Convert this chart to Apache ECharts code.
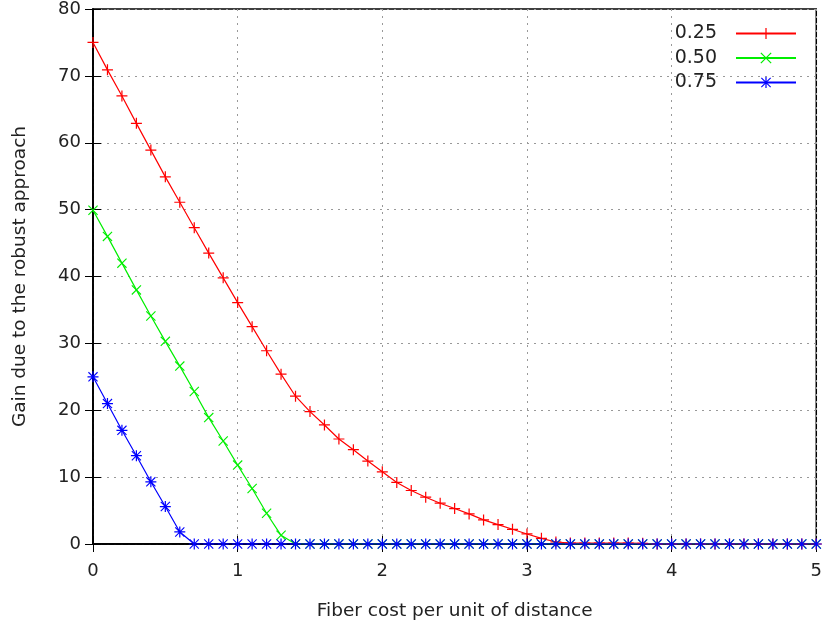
<!DOCTYPE html>
<html>
<head>
<meta charset="utf-8">
<script src="https://cdn.jsdelivr.net/npm/echarts@6/dist/echarts.min.js"></script>
<style>html,body{margin:0;padding:0;background:#fff;}#c{width:825px;height:628px;}</style>
</head>
<body>
<div id="c"></div>
<script>
const xValues = [0,0.1,0.2,0.3,0.4,0.5,0.6,0.7,0.8,0.9,1,1.1,1.2,1.3,1.4,1.5,1.6,1.7,1.8,1.9,2,2.1,2.2,2.3,2.4,2.5,2.6,2.7,2.8,2.9,3,3.1,3.2,3.3,3.4,3.5,3.6,3.7,3.8,3.9,4,4.1,4.2,4.3,4.4,4.5,4.6,4.7,4.8,4.9,5];
const seriesNames = ['0.25','0.50','0.75'];
const gain025 = [75,70.9,67.0,62.9,58.9,54.9,51.1,47.3,43.5,39.8,36.1,32.5,28.9,25.4,22.1,19.8,17.8,15.7,14.1,12.4,10.8,9.2,8.0,7.0,6.1,5.3,4.5,3.6,2.9,2.2,1.5,0.85,0.3,0.15,0.15,0.15,0.15,0.15,0.1,0,0,0,0,0,0,0,0,0,0,0,0];
const gain050 = [49.9,46.0,42.0,38.0,34.1,30.3,26.6,22.8,18.9,15.4,11.8,8.3,4.6,1.3,0,0,0,0,0,0,0,0,0,0,0,0,0,0,0,0,0,0,0,0,0,0,0,0,0,0,0,0,0,0,0,0,0,0,0,0,0];
const gain075 = [25.0,21.0,17.0,13.2,9.3,5.6,1.8,0,0,0,0,0,0,0,0,0,0,0,0,0,0,0,0,0,0,0,0,0,0,0,0,0,0,0,0,0,0,0,0,0,0,0,0,0,0,0,0,0,0,0,0];
const xTicks = [0,1,2,3,4,5];
const yTicks = [0,10,20,30,40,50,60,70,80];

const plusPath = 'path://M4.45,0h1.1v10h-1.1z M0,4.45h10v1.1h-10z';
const crossPath = 'path://M0,0.8L0.8,0L10,9.2L9.2,10Z M9.2,0L10,0.8L0.8,10L0,9.2Z';
const starPath = 'path://M4.45,0h1.1v10h-1.1z M0,4.45h10v1.1h-10z M0.5,1.2L1.2,0.5L9.5,8.8L8.8,9.5Z M8.8,0.5L9.5,1.2L1.2,9.5L0.5,8.8Z';

function pairs(ys){ return xValues.map((x,i)=>[x, ys[i]]); }
const font = 'DejaVu Sans';
const txt = '#222';

const chart = echarts.init(document.getElementById('c'), null, {renderer:'canvas'});
const mk = (name, data, color, sym, size) => ({
  name, type:'line', data: pairs(data), symbol: sym, symbolSize: size,
  showAllSymbol: true, animation:false, xAxisIndex:0, yAxisIndex:0,
  lineStyle:{color, width:1.2}, itemStyle:{color, borderWidth:0}
});
chart.setOption({
  animation:false,
  backgroundColor:'#fff',
  grid:{left:93, right:3, top:9, bottom:84, containLabel:false, show:true, borderColor:'#000', borderWidth:1.5},
  legend:{
    right:23, top:19, orient:'vertical', align:'right', itemGap:5.5,
    itemWidth:60, itemHeight:14, padding:5,
    textStyle:{fontFamily:font, fontSize:19, color:txt, padding:[0,14,0,0]},
    data: seriesNames
  },
  xAxis:[{
    type:'value', min:0, max:5, interval:1,
    name:'Fiber cost per unit of distance', nameLocation:'middle', nameGap:58,
    nameTextStyle:{fontFamily:font, fontSize:18.5, color:txt},
    axisLine:{show:true, lineStyle:{color:'#000', width:1.5}},
    axisTick:{show:true, inside:true, length:8, lineStyle:{color:'#000'}},
    axisLabel:{fontFamily:font, fontSize:18, color:txt, margin:18},
    splitLine:{show:true, lineStyle:{color:'#999', type:[2,5], width:1}}
  },{
    type:'value', min:0, max:5, interval:1, position:'top', show:true,
    axisLine:{show:true, lineStyle:{color:'#000', width:1.5}},
    axisTick:{show:true, inside:true, length:8, lineStyle:{color:'#000'}},
    axisLabel:{show:false}, splitLine:{show:false}
  }],
  yAxis:[{
    type:'value', min:0, max:80, interval:10,
    name:'Gain due to the robust approach', nameLocation:'middle', nameGap:63,
    nameTextStyle:{fontFamily:font, fontSize:18.5, color:txt},
    axisLine:{show:true, lineStyle:{color:'#000', width:1.5}},
    axisTick:{show:true, inside:true, length:8, lineStyle:{color:'#000'}},
    axisLabel:{fontFamily:font, fontSize:18, color:txt, margin:12},
    splitLine:{show:true, lineStyle:{color:'#999', type:[2,5], width:1}}
  },{
    type:'value', min:0, max:80, interval:10, position:'right', show:true,
    axisLine:{show:true, lineStyle:{color:'#000', width:1.5}},
    axisTick:{show:true, inside:true, length:8, lineStyle:{color:'#000'}},
    axisLabel:{show:false}, splitLine:{show:false}
  }],
  series:[
    mk(seriesNames[0], gain025, '#ff0000', plusPath, 11),
    mk(seriesNames[1], gain050, '#00ee00', crossPath, 10),
    mk(seriesNames[2], gain075, '#0000ff', starPath, 11),
    {type:'line', name:'_frame', data:[], xAxisIndex:1, yAxisIndex:1, silent:true}
  ]
});
</script>
</body>
</html>
